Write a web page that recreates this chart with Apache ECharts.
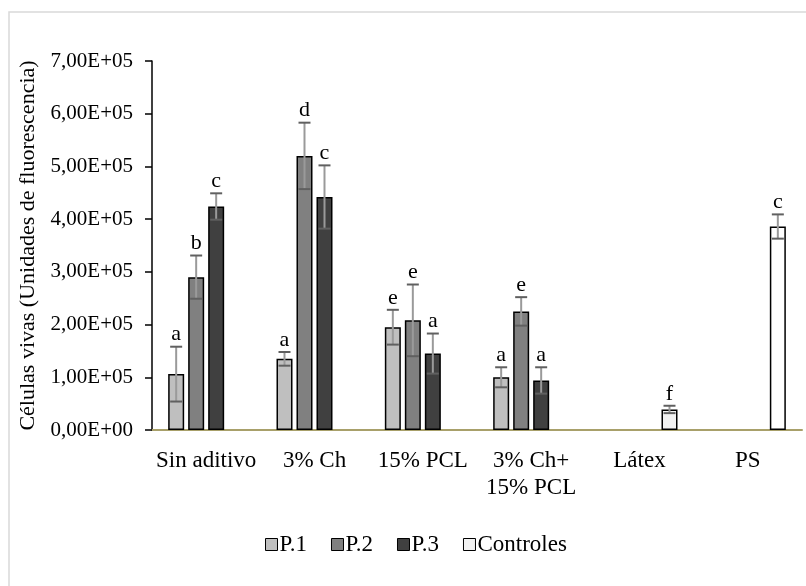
<!DOCTYPE html>
<html>
<head>
<meta charset="utf-8">
<script src="https://cdn.jsdelivr.net/npm/echarts@6/dist/echarts.min.js"></script>
<style>html,body{margin:0;padding:0;background:#fff;}#c{width:806px;height:586px;}</style>
</head>
<body>
<div id="c"></div>
<script>
var categories = ['Sin aditivo', '3% Ch', '15% PCL', '3% Ch+\n15% PCL', 'Látex', 'PS'];
var seriesNames = ['P.1', 'P.2', 'P.3', 'Controles'];
var p1 = [106000, 135000, 195000, 100000, null, null];
var p2 = [290000, 520000, 208000, 225000, null, null];
var p3 = [424000, 442000, 145000, 94000, null, null];
var ctrl = [null, null, null, null, 39000, 386000];
var p1Err = [52000, 13000, 33000, 19000, null, null];
var p2Err = [41000, 63000, 68000, 27000, null, null];
var p3Err = [25000, 60000, 38000, 25000, null, null];
var ctrlErr = [null, null, null, null, 7000, 23000];
var p1Letters = ['a', 'a', 'e', 'a', '', ''];
var p2Letters = ['b', 'd', 'e', 'e', '', ''];
var p3Letters = ['c', 'c', 'a', 'a', '', ''];
var ctrlLetters = ['', '', '', '', 'f', 'c'];
var yTicks = [0, 100000, 200000, 300000, 400000, 500000, 600000, 700000];

var values = [p1, p2, p3, ctrl];
var errs = [p1Err, p2Err, p3Err, ctrlErr];
var letters = [p1Letters, p2Letters, p3Letters, ctrlLetters];
var colors = ['#bfbfbf', '#808080', '#404040', '#f2f2f2'];
var FONT = '"Liberation Serif", "Times New Roman", serif';
var BW = 16, GAP = 4;

function sci(v) {
  if (v === 0) return '0,00E+00';
  var e = Math.floor(Math.log10(Math.abs(v)) + 1e-9);
  var m = v / Math.pow(10, e);
  return m.toFixed(2).replace('.', ',') + 'E+' + (e < 10 ? '0' + e : e);
}

var series = [];
values.forEach(function (arr, si) {
  series.push({
    name: seriesNames[si],
    type: 'bar',
    barWidth: BW,
    barGap: (GAP / BW * 100) + '%',
    z: 2,
    itemStyle: { color: colors[si], borderColor: '#000', borderWidth: 1.5 },
    data: arr.map(function (v, ci) {
      if (v === null) return '-';
      if (si === 3 && categories[ci] === 'PS') return { value: v, itemStyle: { color: '#ffffff' } };
      return v;
    })
  });
});
values.forEach(function (arr, si) {
  var d = [];
  arr.forEach(function (v, ci) { if (v !== null) d.push([ci, v, errs[si][ci], letters[si][ci]]); });
  series.push({
    type: 'custom',
    z: 5,
    silent: true,
    data: d,
    encode: { x: 0, y: 1 },
    renderItem: function (params, api) {
      var ci = api.value(0), v = api.value(1), e = api.value(2);
      var lt = d[params.dataIndex][3];
      var off = (si - 1.5) * (BW + GAP);
      var top = api.coord([ci, v + e]);
      var bot = api.coord([ci, v - e]);
      var x = top[0] + off;
      var cw = 6;
      return {
        type: 'group',
        children: [
          { type: 'line', shape: { x1: x, y1: top[1], x2: x, y2: bot[1] }, style: { stroke: '#9a9a9a', lineWidth: 2 } },
          { type: 'line', shape: { x1: x - cw, y1: top[1], x2: x + cw, y2: top[1] }, style: { stroke: '#606060', lineWidth: 2 } },
          { type: 'line', shape: { x1: x - cw, y1: bot[1], x2: x + cw, y2: bot[1] }, style: { stroke: '#606060', lineWidth: 2 } },
          { type: 'text', style: { text: lt, x: x, y: top[1] - 1, textAlign: 'center', textVerticalAlign: 'bottom', font: '22px ' + FONT, fill: '#000' } }
        ]
      };
    }
  });
});

var chart = echarts.init(document.getElementById('c'));
chart.setOption({
  backgroundColor: '#fff',
  animation: false,
  graphic: [{ type: 'rect', shape: { x: 9, y: 12, width: 830, height: 620 }, style: { fill: 'none', stroke: '#d9d9d9', lineWidth: 1.5 }, z: -1 }],
  grid: { left: 152, right: 4, top: 61, bottom: 156, containLabel: false },
  legend: {
    data: seriesNames,
    left: 260,
    top: 528,
    icon: 'rect',
    itemWidth: 12,
    itemHeight: 12,
    itemGap: 24,
    textStyle: { fontFamily: FONT, fontSize: 23, color: '#000', padding: [0, 0, 0, -3] },
    itemStyle: { borderColor: '#000', borderWidth: 1 }
  },
  xAxis: {
    type: 'category',
    data: categories,
    axisLine: { lineStyle: { color: '#a8a06a', width: 2 } },
    axisTick: { show: false },
    axisLabel: { interval: 0, margin: 17, fontFamily: FONT, fontSize: 23, color: '#000', lineHeight: 27 }
  },
  yAxis: {
    type: 'value',
    min: yTicks[0],
    max: yTicks[yTicks.length - 1],
    interval: yTicks[1] - yTicks[0],
    name: 'Células vivas (Unidades de fluorescencia)',
    nameLocation: 'middle',
    nameGap: 107,
    nameTextStyle: { fontFamily: FONT, fontSize: 22, color: '#000' },
    axisLine: { show: true, lineStyle: { color: '#000', width: 1.5 } },
    axisTick: { show: true, inside: false, length: 7, lineStyle: { color: '#000', width: 1.5 } },
    splitLine: { show: false },
    axisLabel: { margin: 19, fontFamily: FONT, fontSize: 21, color: '#000', formatter: sci }
  },
  series: series
});
</script>
</body>
</html>
